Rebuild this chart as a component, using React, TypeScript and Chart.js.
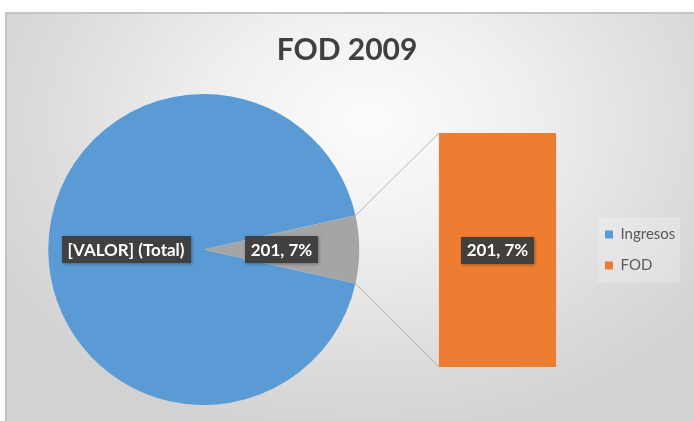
import React, { useEffect, useRef } from 'react';
import { Chart, registerables } from 'chart.js';

Chart.register(...registerables);

// ---- data ----
const chartTitle = 'FOD 2009';
const categories = ['Ingresos', 'FOD'];
const values = [2670, 201];
const pieColors = ['#5B9BD5', '#A5A5A5'];
const legendColors = ['#5B9BD5', '#ED7D31'];
const barCategories = ['FOD'];
const barValues = [201];
const barColor = '#ED7D31';
const totalLabel = '[VALOR] (Total)';

const total = values.reduce((a, b) => a + b, 0);
const valueLabel = (v: number) => `${v}, ${Math.round((v / total) * 100)}%`;

const FONT = 'Lato, "Open Sans", sans-serif';

function drawTag(ctx: CanvasRenderingContext2D, text: string, x: number, y: number) {
  ctx.save();
  ctx.font = `bold 17px ${FONT}`;
  const w = ctx.measureText(text).width;
  const padX = 6;
  const h = 27;
  ctx.shadowColor = 'rgba(0,0,0,0.35)';
  ctx.shadowBlur = 3;
  ctx.shadowOffsetX = 1;
  ctx.shadowOffsetY = 1;
  ctx.fillStyle = 'rgba(62,62,62,0.95)';
  ctx.fillRect(Math.round(x - w / 2 - padX), Math.round(y - h / 2), Math.round(w + 2 * padX), h);
  ctx.shadowColor = 'transparent';
  ctx.fillStyle = '#ffffff';
  ctx.textAlign = 'center';
  ctx.textBaseline = 'middle';
  ctx.fillText(text, x, y + 1);
  ctx.restore();
}

export default function App() {
  const pieRef = useRef<HTMLCanvasElement>(null);
  const barRef = useRef<HTMLCanvasElement>(null);

  useEffect(() => {
    if (!pieRef.current || !barRef.current) return;

    const titlePlugin = {
      id: 'titleText',
      afterDraw(chart: any) {
        const ctx = chart.ctx;
        ctx.save();
        ctx.font = `bold 30px ${FONT}`;
        ctx.fillStyle = '#404040';
        ctx.textAlign = 'center';
        ctx.textBaseline = 'middle';
        ctx.fillText(chartTitle, chart.width / 2, 50);
        ctx.restore();
      },
    };

    const pieLabels = {
      id: 'pieLabels',
      afterDatasetsDraw(chart: any) {
        const meta = chart.getDatasetMeta(0);
        meta.data.forEach((arc: any, i: number) => {
          const p = arc.tooltipPosition();
          const text = i === 0 ? totalLabel : valueLabel(values[i]);
          drawTag(chart.ctx, text, p.x, p.y);
        });
      },
    };

    const pie = new Chart(pieRef.current, {
      type: 'pie',
      data: {
        labels: categories,
        datasets: [{ data: values, backgroundColor: pieColors, borderWidth: 0 }],
      },
      options: {
        responsive: false,
        animation: false,
        devicePixelRatio: 1,
        rotation: 90 + (values[1] / total) * 180,
        layout: { padding: { left: 47.5, right: 334, top: 94, bottom: 16 } },
        plugins: {
          legend: { display: false },
          tooltip: { enabled: false },
          title: { display: false },
        },
      } as any,
      plugins: [pieLabels, titlePlugin],
    });

    const connectors = {
      id: 'connectors',
      beforeDatasetsDraw(chart: any) {
        const arc: any = pie.getDatasetMeta(0).data[1];
        const bar: any = chart.getDatasetMeta(0).data[0];
        if (!arc || !bar) return;
        const { x, y, startAngle, endAngle, outerRadius } = arc.getProps(['x', 'y', 'startAngle', 'endAngle', 'outerRadius']);
        const left = bar.x - bar.width / 2;
        const ctx = chart.ctx;
        ctx.save();
        ctx.strokeStyle = 'rgba(175,165,155,0.85)';
        ctx.lineWidth = 1;
        ctx.beginPath();
        ctx.moveTo(x + outerRadius * Math.cos(startAngle), y + outerRadius * Math.sin(startAngle));
        ctx.lineTo(left, bar.y);
        ctx.moveTo(x + outerRadius * Math.cos(endAngle), y + outerRadius * Math.sin(endAngle));
        ctx.lineTo(left, bar.base);
        ctx.stroke();
        ctx.restore();
      },
      afterDatasetsDraw(chart: any) {
        const bar: any = chart.getDatasetMeta(0).data[0];
        if (!bar) return;
        drawTag(chart.ctx, valueLabel(barValues[0]), bar.x, (bar.y + bar.base) / 2);
      },
    };

    const legendBg = {
      id: 'legendBg',
      beforeDraw(chart: any) {
        const hb = chart.legend && chart.legend.legendHitBoxes;
        if (!hb || !hb.length) return;
        const l = Math.min(...hb.map((b: any) => b.left)) - 7;
        const t = Math.min(...hb.map((b: any) => b.top)) - 10;
        const r = Math.max(...hb.map((b: any) => b.left + b.width)) + 5;
        const bt = Math.max(...hb.map((b: any) => b.top + b.height)) + 10;
        const ctx = chart.ctx;
        ctx.save();
        ctx.fillStyle = 'rgba(255,255,255,0.22)';
        ctx.fillRect(l, t, r - l, bt - t);
        ctx.restore();
      },
    };

    const bar = new Chart(barRef.current, {
      type: 'bar',
      data: {
        labels: barCategories,
        datasets: [
          {
            label: barCategories[0],
            data: barValues,
            backgroundColor: barColor,
            borderWidth: 0,
            barPercentage: 0.64,
            categoryPercentage: 1,
          },
        ],
      },
      options: {
        responsive: false,
        animation: false,
        devicePixelRatio: 1,
        layout: { padding: { left: 406, right: 15, top: 133, bottom: 54 } },
        scales: {
          x: { display: false },
          y: { display: false, min: 0, max: barValues[0] },
        },
        plugins: {
          tooltip: { enabled: false },
          title: { display: false },
          legend: {
            position: 'right',
            align: 'center',
            maxWidth: 90,
            labels: {
              boxWidth: 8,
              boxHeight: 8,
              padding: 16,
              color: '#595959',
              font: { family: FONT, size: 15 },
              generateLabels: () =>
                categories.map((c, i) => ({
                  text: c,
                  fillStyle: legendColors[i],
                  strokeStyle: legendColors[i],
                  fontColor: '#595959',
                  lineWidth: 0,
                  hidden: false,
                  index: i,
                  datasetIndex: 0,
                  textAlign: 'left',
                })),
            },
          },
        },
      } as any,
      plugins: [legendBg, connectors],
    });

    return () => {
      bar.destroy();
      pie.destroy();
    };
  }, []);

  return (
    <div
      style={{
        position: 'absolute',
        left: 0,
        top: 0,
        width: 694,
        height: 421,
        overflow: 'hidden',
        background: '#ffffff',
      }}
    >
      <div
        style={{
          position: 'absolute',
          left: 5,
          top: 12,
          width: 694,
          height: 415,
          borderTop: '2px solid #c4c4c4',
          borderLeft: '2px solid #c4c4c4',
          background:
            'radial-gradient(ellipse 62% 78% at 52% 26%, #fcfcfc 0%, #f0f0f0 35%, #dcdcdc 75%, #d2d2d2 100%)',
        }}
      />
      <canvas ref={pieRef} width={694} height={421} style={{ position: 'absolute', left: 0, top: 0 }} />
      <canvas ref={barRef} width={694} height={421} style={{ position: 'absolute', left: 0, top: 0 }} />
    </div>
  );
}
